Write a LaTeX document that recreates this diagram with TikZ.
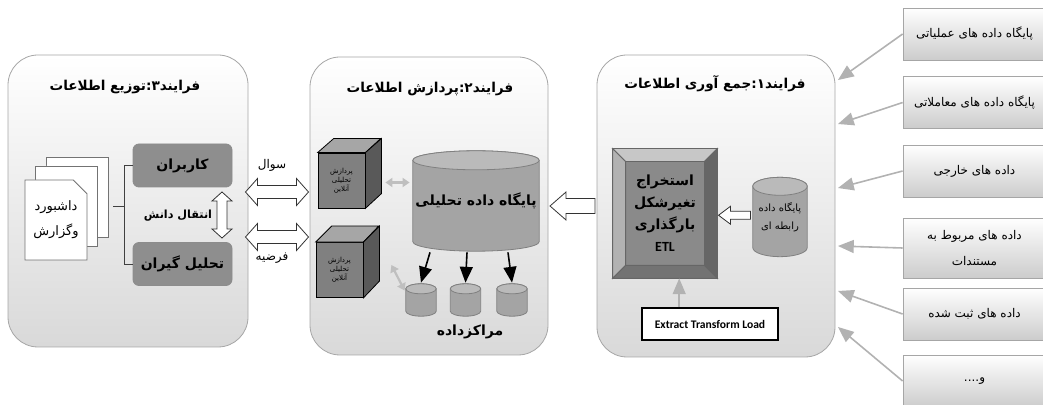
\documentclass[tikz,border=0pt]{standalone}
\usepackage{fontspec}
\newfontfamily\fa[Script=Arabic]{DejaVu Sans}
\newfontfamily\carl{Carlito}
\TeXXeTstate=1
\usetikzlibrary{arrows,arrows.meta,calc,positioning,shapes.misc}
\definecolor{rolegray}{HTML}{8E8E8E}
\definecolor{cylbody}{HTML}{A4A4A4}
\definecolor{cyltop}{HTML}{BABABA}
\definecolor{facegray}{HTML}{8A8A8A}
\newcommand{\rl}[1]{\beginR #1\endR}
\newcommand{\fasize}[1]{\fa\fontsize{#1}{1.3\dimexpr#1pt}\selectfont}

\begin{document}
\begin{tikzpicture}[>=triangle 45, x=0.5pt, y=-0.5pt,
  panel/.style={draw=black!35, rounded corners=15pt, top color=white, bottom color=black!15},
  ttl/.style={font=\fasize{6.8}\bfseries},
  page/.style={chamfered rectangle, chamfered rectangle corners=north east, chamfered rectangle xsep=4pt,
    draw=black!55, fill=white, minimum width=31pt, minimum height=40pt, inner sep=0pt},
  role/.style={draw=black!45, fill=rolegray, rounded corners=3pt, minimum width=49.5pt, minimum height=21.5pt,
    font=\fasize{7}\bfseries},
  hollow/.style={draw=black!80, fill=white},
  cyl/.style={rectangle, inner sep=0pt, path picture={
    \path let \p1=($(path picture bounding box.north west)+(0.4pt,-0.4pt)$),
      \p2=($(path picture bounding box.south east)+(-0.4pt,0.4pt)$), \n1={(\x2-\x1)/2} in
      [draw=black!50, fill=cylbody] (\x1,\y1-#1) -- (\x1,\y2+#1)
      arc[start angle=180, end angle=360, x radius=\n1, y radius=#1] -- (\x2,\y1-#1)
      arc[start angle=0, end angle=180, x radius=\n1, y radius=#1] -- cycle;
    \path let \p1=($(path picture bounding box.north west)+(0.4pt,-0.4pt)$),
      \p2=($(path picture bounding box.south east)+(-0.4pt,0.4pt)$), \n1={(\x2-\x1)/2} in
      [draw=black!50, fill=cyltop] (\x1,\y1-#1)
      arc[start angle=180, end angle=-180, x radius=\n1, y radius=#1] -- cycle;}},
  cubeface/.style={draw=black, fill=black!50, minimum width=23.5pt, minimum height=27.5pt, inner sep=0pt,
    align=center, font=\fasize{3.5}},
  gdbl/.style={{Triangle[length=3.5pt,width=4.5pt]}-{Triangle[length=3.5pt,width=4.5pt]}, draw=black!25, line width=1.1pt},
  srcbox/.style={draw=black!35, top color=white, bottom color=black!20, minimum width=71.5pt,
    minimum height=26pt, font=\fasize{6}},
  srcarr/.style={->, draw=black!30, line width=0.8pt},
  pics/dblarr/.style n args={4}{code={
    \draw[hollow] (-#1/2,0pt) -- ++(#4,#2) -- ++(0pt,#3-#2) -- (#1/2-#4,#3) -- ++(0pt,#2-#3)
      -- (#1/2,0pt) -- ++(-#4,-#2) -- ++(0pt,#2-#3) -- (-#1/2+#4,-#3) -- ++(0pt,#3-#2) -- cycle;}},
  pics/lftarr/.style n args={4}{code={
    \draw[hollow] (-#1/2,0pt) -- ++(#4,#2) -- ++(0pt,#3-#2) -- (#1/2,#3) -- (#1/2,-#3)
      -- (-#1/2+#4,-#3) -- ++(0pt,#3-#2) -- cycle;}}]
\useasboundingbox (0,0) rectangle (1043,405);

% panels
\node[panel, minimum width=120pt, minimum height=146pt] (p3) at (128,201) {};
\node[panel, minimum width=119pt, minimum height=149pt] (p2) at (429,206) {};
\node[panel, minimum width=119pt, minimum height=151pt] (p1) at (716,206) {};
\node[ttl] (t3) at (125,87) {\rl{فرایند۳:توزیع اطلاعات}};
\node[ttl] (t2) at (430,89) {\rl{فرایند۲:پردازش اطلاعات}};
\node[ttl] (t1) at (715,84) {\rl{فرایند۱:جمع آوری اطلاعات}};

% process 3
\node[page] (pgC) at (77,197) {};
\node[page] (pgB) at (66,206) {};
\node[page, align=center, font=\fa\fontsize{6.5}{12.5}\selectfont] (pgA) at (56,220) {\rl{داشبورد}\\\rl{وگزارش}};
\node[role] (usr) at (182.5,165.5) {\rl{کاربران}};
\node[role] (ana) at (182.5,264) {\rl{تحلیل گیران}};
\draw[black!75] (usr.west) -- ++(-4pt,0) coordinate (brk) |- (ana.west);
\draw[black!75] (brk |- pgB.east) -- ++(-6pt,0);
\pic[rotate=90] (know) at (222,215) {dblarr={23pt}{5pt}{2.5pt}{4.5pt}};
\node[font=\fasize{5.6}\bfseries] (knowl) at (178,216) {\rl{انتقال دانش}};

% between 3 and 2
\pic (qa) at (277,192) {dblarr={31.5pt}{6.75pt}{3.25pt}{6pt}};
\pic (ha) at (277,237) {dblarr={31.5pt}{6.75pt}{3.25pt}{6pt}};
\node[font=\fasize{6}] (qal) at (272,165) {\rl{سوال}};
\node[font=\fasize{6}] (hal) at (272,258) {\rl{فرضیه}};

% process 2
\node[cubeface] (olap1) at (341.5,180.5) {\rl{پردازش}\\\rl{تحلیلی}\\\rl{آنلاین}};
\filldraw[fill=black!35] (olap1.north west) -- ++(8pt,7pt) -- ++(23.5pt,0) -- (olap1.north east) -- cycle;
\filldraw[fill=black!65] (olap1.north east) -- ++(8pt,7pt) -- ++(0,-27.5pt) -- (olap1.south east) -- cycle;
\node[cubeface] (olap2) at (339.5,270) {\rl{پردازش}\\\rl{تحلیلی}\\\rl{آنلاین}};
\filldraw[fill=black!35] (olap2.north west) -- ++(8pt,8pt) -- ++(23.5pt,0) -- (olap2.north east) -- cycle;
\filldraw[fill=black!65] (olap2.north east) -- ++(8pt,8pt) -- ++(0,-27.5pt) -- (olap2.south east) -- cycle;

\node[cyl=4.75pt, minimum width=64pt, minimum height=51pt, font=\fasize{7}\bfseries] (dwh) at (476,201) {\rl{پایگاه داده تحلیلی}};
\foreach \n/\x in {mrt1/421, mrt2/465.5, mrt3/512}
  \node[cyl=2.5pt, minimum width=16pt, minimum height=17pt] (\n) at (\x,300) {};
\draw[->, thick] ($(dwh.south)+(-23pt,0)$) -- (mrt1.north);
\draw[->, thick] ($(dwh.south)+(-4.5pt,0)$) -- (mrt2.north);
\draw[->, thick] ($(dwh.south)+(16pt,0)$) -- (mrt3.north);
\draw[gdbl] ($(olap1.east)+(10pt,-1pt)$) -- ($(dwh.west |- olap1.east)+(-1pt,-1pt)$);
\draw[gdbl] ($(olap2.east)+(14pt,2.5pt)$) -- (mrt1.150);
\node[font=\fasize{7}\bfseries] (mrtl) at (470,332) {\rl{مراکزداده}};

% between 1 and 2
\pic (flow) at ($(p2.east)!0.5!(p1.west)$) {lftarr={22.5pt}{7pt}{3.75pt}{8pt}};

% process 1
\node[draw=black!60, fill=facegray, minimum width=52pt, minimum height=64.5pt, inner sep=0pt,
  align=center, font=\fa\fontsize{7}{11}\selectfont\bfseries] (etl) at (665,213.5)
  {\rl{استخراج}\\\rl{تغیرشکل}\\\rl{بارگذاری}\\{\carl\bfseries ETL}};
\filldraw[draw=black!60, fill=black!22] (etl.north west) -- (etl.north east) -- ++(-6.5pt,-6.5pt)
  -- ($(etl.north west)+(6.5pt,-6.5pt)$) -- cycle;
\filldraw[draw=black!60, fill=black!30] (etl.north west) -- ++(6.5pt,-6.5pt)
  -- ($(etl.south west)+(6.5pt,6.5pt)$) -- (etl.south west) -- cycle;
\filldraw[draw=black!60, fill=black!60] (etl.north east) -- ++(-6.5pt,-6.5pt)
  -- ($(etl.south east)+(-6.5pt,6.5pt)$) -- (etl.south east) -- cycle;
\filldraw[draw=black!60, fill=black!55] (etl.south west) -- ++(6.5pt,6.5pt)
  -- ($(etl.south east)+(-6.5pt,6.5pt)$) -- (etl.south east) -- cycle;
\node[cyl=4.5pt, minimum width=28pt, minimum height=40.5pt, align=center,
  font=\fa\fontsize{5}{9}\selectfont] (rdb) at (780,217) {\rl{پایگاه داده}\\\rl{رابطه ای}};
\pic (load) at ($(etl.east)!0.5!(rdb.west)$) {lftarr={16pt}{4.5pt}{2pt}{6pt}};
\node[draw=black, line width=0.8pt, fill=white, minimum width=68pt, minimum height=16pt,
  font=\carl\bfseries\fontsize{5.8}{7}\selectfont] (xtl) at (710,324) {Extract Transform Load};
\coordinate (etlin) at ($(xtl.north west)+(19pt,0)$);
\draw[srcarr] (etlin) -- (etlin |- etl.south);

% sources
\node[srcbox] (src1) at (974.5,34) {\rl{پایگاه داده های عملیاتی}};
\node[srcbox] (src2) at (974.5,102.5) {\rl{پایگاه داده های معاملاتی}};
\node[srcbox] (src3) at (974.5,171) {\rl{داده های خارجی}};
\node[srcbox, minimum height=30pt, align=center, font=\fa\fontsize{6}{13}\selectfont] (src4) at (974.5,248)
  {\rl{داده های مربوط به}\\\rl{مستندات}};
\node[srcbox] (src5) at (974.5,314) {\rl{داده های ثبت شده}};
\node[srcbox] (src6) at (974.5,381) {\rl{و....}};
\foreach \i/\y in {1/80,2/124,3/188,4/246,5/291,6/327} {
  \coordinate (in\i) at (838,\y);
  \draw[srcarr] (src\i.west) -- (in\i);
}
\end{tikzpicture}
\end{document}
